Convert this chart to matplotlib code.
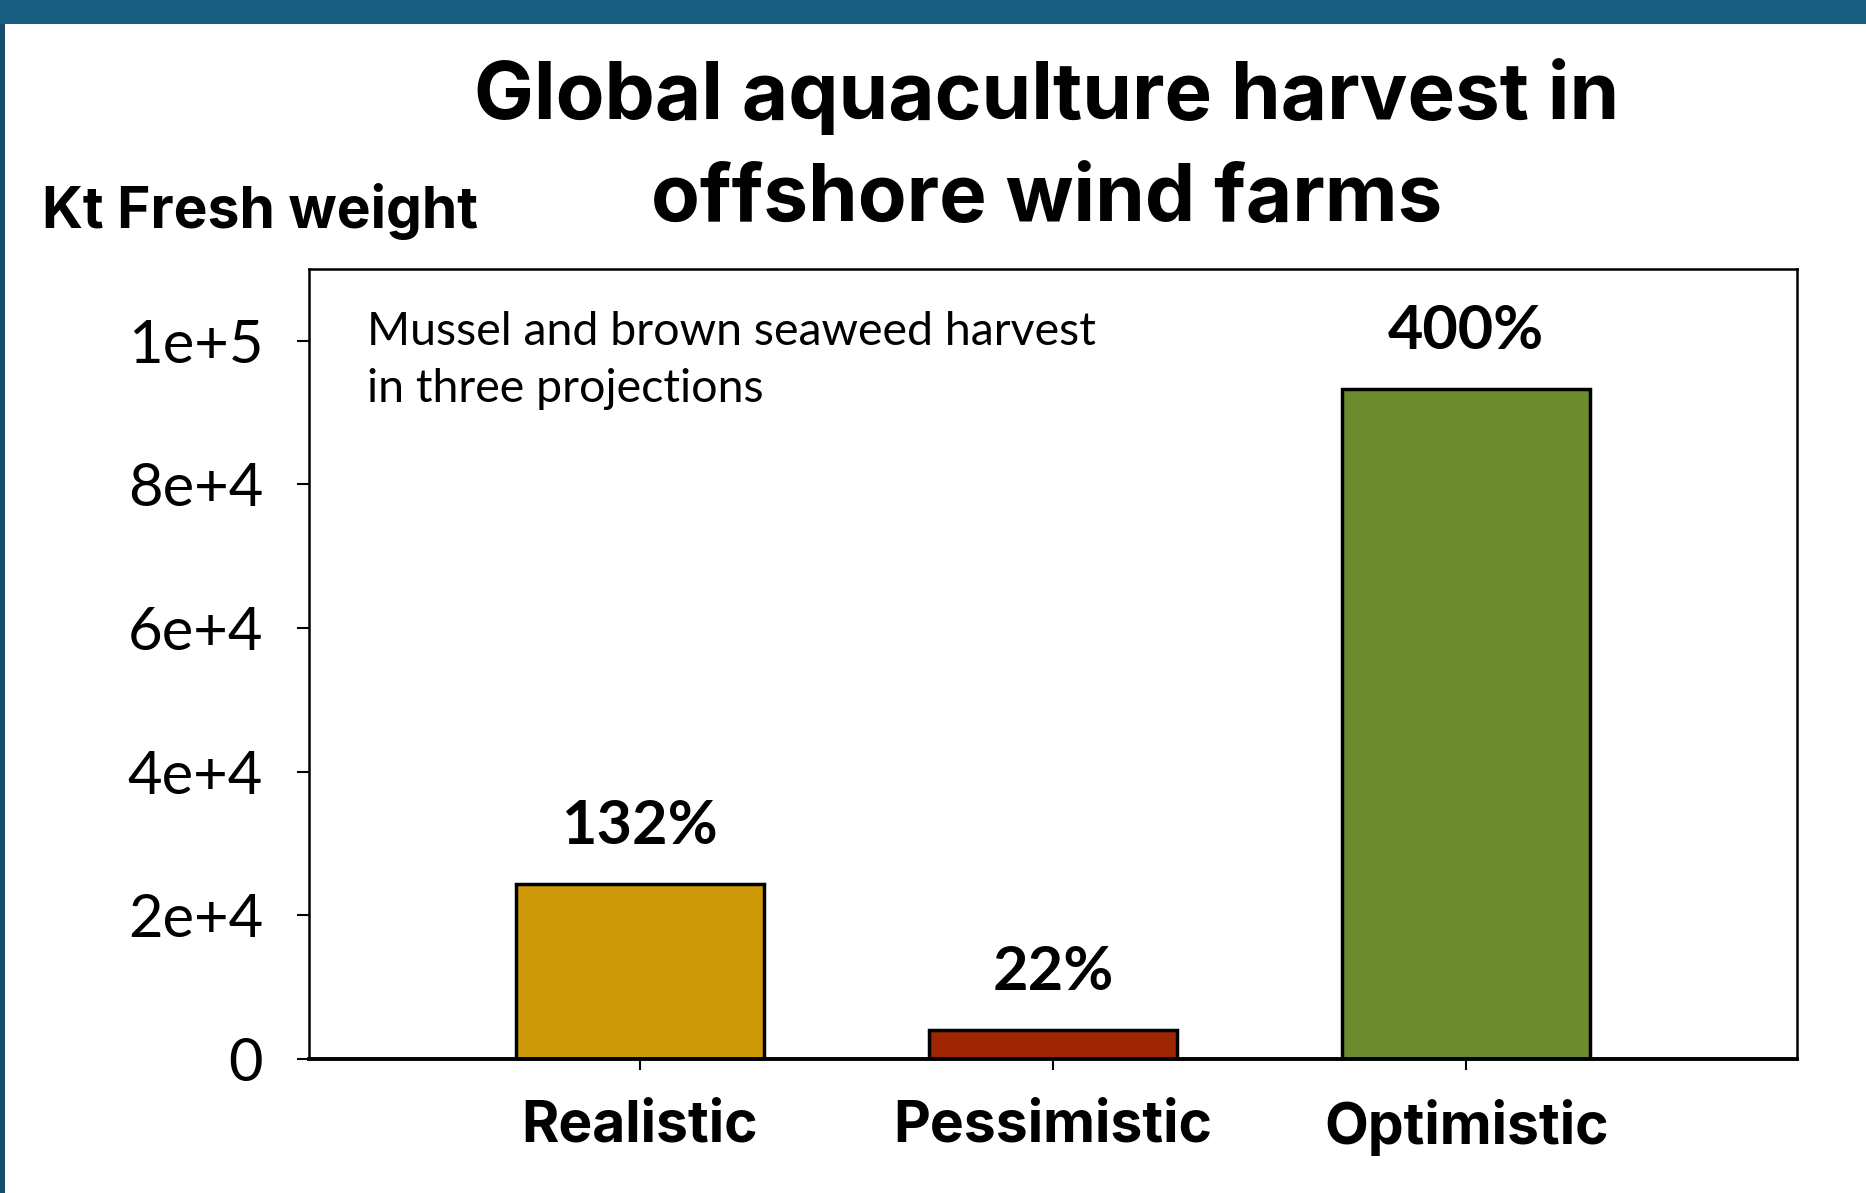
import matplotlib
matplotlib.use("Agg")
from matplotlib import pyplot as plt
from matplotlib.patches import Rectangle

# projections of the harvest, kt fresh weight
scenarios = ["Realistic", "Pessimistic", "Optimistic"]
harvest = [24400, 4000, 93300]
pct_labels = ["132%", "22%", "400%"]
bar_colors = ["#CF9A08", "#9E2602", "#6C8B2C"]

y_ticks = [0, 20000, 40000, 60000, 80000, 100000]
y_tick_labels = ["0", "2e+4", "4e+4", "6e+4", "8e+4", "1e+5"]

plt.rcParams["font.family"] = ["Lato", "DejaVu Sans"]
BOLD = ["Inter", "Lato", "DejaVu Sans"]

fig = plt.figure(figsize=(18.66, 11.93), dpi=100)

# slide frame: band on top, thin strip on the left
fig.patches.append(Rectangle((0, 0.98), 1, 0.02, transform=fig.transFigure,
                             facecolor="#185E80", edgecolor="none"))
fig.patches.append(Rectangle((0, 0), 0.0028, 0.98, transform=fig.transFigure,
                             facecolor="#154D6B", edgecolor="none"))

ax = fig.add_axes([0.1656, 0.1123, 0.7974, 0.6622])
x = list(range(len(scenarios)))
bars = ax.bar(x, harvest, width=0.6, color=bar_colors,
              edgecolor="black", linewidth=2.5)

# percentage change labels above the bars
for rect, lab in zip(bars, pct_labels):
    ax.annotate(lab, (rect.get_x() + rect.get_width() / 2, rect.get_height()),
                xytext=(0, 29), textcoords="offset points",
                ha="center", va="baseline", fontsize=44, fontweight="bold")

ax.set_xlim(-0.8, 2.8)
ax.set_ylim(0, 110000)
ax.set_xticks(x)
ax.set_xticklabels(scenarios, fontsize=41, fontweight="bold", family=BOLD)
ax.set_yticks(y_ticks)
ax.set_yticklabels(y_tick_labels, fontsize=43)
ax.tick_params(axis="y", length=9, width=1.5, pad=24)
ax.tick_params(axis="x", length=8, width=1.5, pad=21)
for side in ["top", "right", "left"]:
    ax.spines[side].set_linewidth(1.8)
ax.spines["bottom"].set_linewidth(2.8)

ax.text(0.039, 0.9036, "Mussel and brown seaweed harvest", transform=ax.transAxes,
        fontsize=33.5, va="baseline", ha="left")
ax.text(0.039, 0.8313, "in three projections", transform=ax.transAxes,
        fontsize=33.5, va="baseline", ha="left")

fig.text(0.561, 1 - 119 / 1193, "Global aquaculture harvest in",
         fontsize=57.5, fontweight="bold", ha="center", va="baseline", family=BOLD)
fig.text(0.561, 1 - 221 / 1193, "offshore wind farms",
         fontsize=57.5, fontweight="bold", ha="center", va="baseline", family=BOLD)
fig.text(42 / 1866, 1 - 228 / 1193, "Kt Fresh weight",
         fontsize=41, fontweight="bold", ha="left", va="baseline", family=BOLD)

fig.savefig("out.png", dpi=100)
